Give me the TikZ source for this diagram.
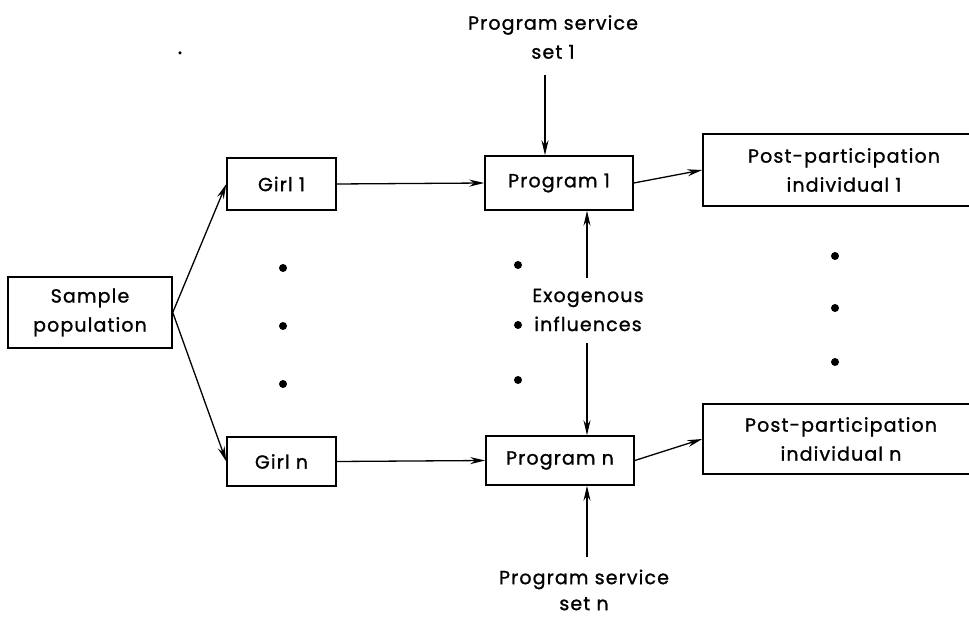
\documentclass[tikz,border=0pt]{standalone}
\usepackage{fontspec}
\setmainfont{Poppins}[LetterSpace=6, FakeBold=1.2]
\usetikzlibrary{arrows.meta}
\tikzset{
  lbl/.style={align=center, font=\fontsize{19}{29}\selectfont, inner sep=0pt},
  box/.style={lbl, draw, line width=1.5pt},
  arr/.style={-{Stealth[length=15pt,width=7pt]}, line width=1.3pt},
  bdot/.style={circle, fill, inner sep=0pt, minimum size=8pt},
}
\begin{document}
\begin{tikzpicture}[x=1pt,y=-1pt]
\useasboundingbox (0,0) rectangle (969,617);
\clip (0,0) rectangle (969,617);
% boxes
\node[box, minimum width=164pt, minimum height=71pt] (sample) at (90,312.5) {Sample\\population};
\node[box, minimum width=109pt, minimum height=52pt] (girl1) at (281.5,184) {Girl 1};
\node[box, minimum width=109pt, minimum height=49pt] (girln) at (281.5,461.5) {Girl n};
\node[box, minimum width=148pt, minimum height=54pt] (prog1) at (559,183) {Program 1};
\node[box, minimum width=148pt, minimum height=49pt] (progn) at (560,460.5) {Program n};
\node[box, minimum width=282pt, minimum height=72pt] (post1) at (844,170) {};
\node[lbl] (post1t) at (844,170) {Post-participation\\individual 1};
\node[box, minimum width=282pt, minimum height=70pt] (postn) at (844,439) {};
\node[lbl] (postnt) at (841,439) {Post-participation\\individual n};
% free labels
\node[lbl] (serv1) at (553,37) {Program service\\set 1};
\node[lbl] (exo) at (588,310) {Exogenous\\influences};
\node[lbl, font=\fontsize{19}{26}\selectfont] (servn) at (584,590) {Program service\\set n};
% free connector ends
\coordinate (s1) at (545,75);
\coordinate (exoT) at (587,278);
\coordinate (exoB) at (587,343);
\coordinate (sn) at (587,557);
% connectors
\draw[arr] (sample.east) -- (girl1.west);
\draw[arr] (sample.east) -- (girln.west);
\draw[arr] (girl1.east) -- (prog1.west);
\draw[arr] (girln.east) -- (progn.west);
\draw[arr] (prog1.east) -- (post1.west);
\draw[arr] (progn.east) -- (postn.west);
\draw[arr] (s1) -- (s1 |- prog1.north);
\draw[arr] (exoT) -- (exoT |- prog1.south);
\draw[arr] (exoB) -- (exoB |- progn.north);
\draw[arr] (sn) -- (sn |- progn.south);
% ellipsis dots
\node[bdot] (g1) at (283,268) {};
\node[bdot] (g2) at (283,326) {};
\node[bdot] (g3) at (283,384) {};
\node[bdot] (p1) at (518,265) {};
\node[bdot] (p2) at (518,325) {};
\node[bdot] (p3) at (518,380) {};
\node[bdot] (q1) at (835,256) {};
\node[bdot] (q2) at (835,308) {};
\node[bdot] (q3) at (835,362) {};
\node[bdot, minimum size=3.5pt] (stray) at (180,53) {};
\end{tikzpicture}
\end{document}
